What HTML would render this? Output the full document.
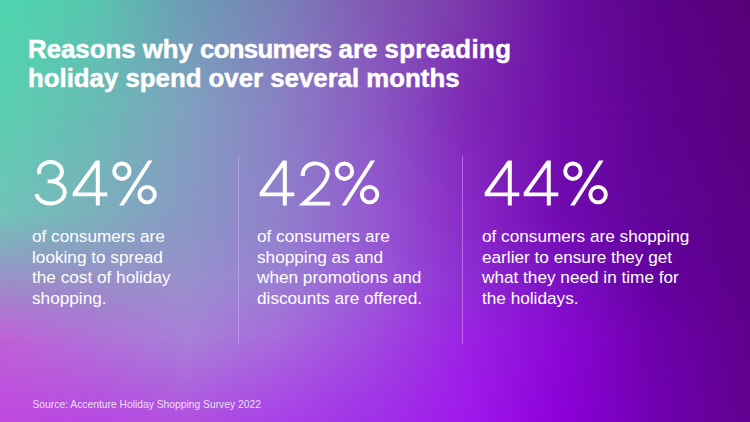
<!DOCTYPE html>
<html><head><meta charset="utf-8"><style>
html,body{margin:0;padding:0;}
body{width:750px;height:422px;overflow:hidden;position:relative;background:linear-gradient(to right, #4ed6ae 0.00%, #58c6b0 12.53%, #6c9cb4 25.07%, #7a80b8 37.47%, #8258b4 50.00%, #7c38ac 62.53%, #680ea0 75.07%, #5a0488 87.47%, #560078 100.00%);font-family:"Liberation Sans",sans-serif;color:#fff;}
.bg{position:absolute;left:0;top:0;width:750px;height:422px;}
.digits{position:absolute;left:0;top:0;}
.title{position:absolute;left:28px;top:34.6px;font-weight:bold;font-size:25.8px;line-height:29px;white-space:nowrap;-webkit-text-stroke:0.5px #fff;}
.body{position:absolute;top:226.2px;font-size:17.2px;line-height:20.6px;white-space:nowrap;}
.vl{position:absolute;top:156px;width:1px;height:188px;background:rgba(215,175,255,0.5);}
.src{position:absolute;left:32.5px;top:398px;font-size:10.3px;line-height:14px;white-space:nowrap;color:rgba(255,255,255,0.8);}
</style></head><body>
<div class="bg" style="background:linear-gradient(to right, #5ad0b0 0.00%, #68bcb4 12.53%, #80a0c0 25.07%, #8a80c4 37.47%, #8c58c4 50.00%, #7e28b6 62.53%, #700ca8 75.07%, #5e0290 87.47%, #58007c 100.00%);-webkit-mask-image:linear-gradient(to bottom, transparent 0px, #000 110px);mask-image:linear-gradient(to bottom, transparent 0px, #000 110px)"></div><div class="bg" style="background:linear-gradient(to right, #70c4b8 0.00%, #7cb0bc 12.53%, #8898c4 25.07%, #9080cc 37.47%, #9458d0 50.00%, #8a28c8 62.53%, #700ab0 75.07%, #600498 87.47%, #5a0084 100.00%);-webkit-mask-image:linear-gradient(to bottom, transparent 110px, #000 215px);mask-image:linear-gradient(to bottom, transparent 110px, #000 215px)"></div><div class="bg" style="background:linear-gradient(to right, #9a90c8 0.00%, #9890c8 12.53%, #9890cc 25.07%, #9a80d4 37.47%, #9a58d8 50.00%, #8e2cd4 62.53%, #7c10c4 75.07%, #6400a0 87.47%, #5c0088 100.00%);-webkit-mask-image:linear-gradient(to bottom, transparent 215px, #000 280px);mask-image:linear-gradient(to bottom, transparent 215px, #000 280px)"></div><div class="bg" style="background:linear-gradient(to right, #c060d8 0.00%, #b070d8 12.53%, #a880d8 25.07%, #a868dc 37.47%, #a048e0 50.00%, #9c20e4 62.53%, #8a08d4 75.07%, #6e00ac 87.47%, #5e008c 100.00%);-webkit-mask-image:linear-gradient(to bottom, transparent 280px, #000 340px);mask-image:linear-gradient(to bottom, transparent 280px, #000 340px)"></div><div class="bg" style="background:linear-gradient(to right, #be48e0 0.00%, #b848e0 12.53%, #b050e0 25.07%, #a840e8 37.47%, #a030e8 50.00%, #a018ec 62.53%, #8c00d8 75.07%, #7000b0 87.47%, #620090 100.00%);-webkit-mask-image:linear-gradient(to bottom, transparent 340px, #000 422px);mask-image:linear-gradient(to bottom, transparent 340px, #000 422px)"></div>
<svg class="digits" width="750" height="422" viewBox="0 0 750 422">
<g transform="translate(33 0)"><path d="M6.3 174 A11.5 9.7 0 1 1 17.6 181.4 H14.6 M17.6 181.4 A14.3 11.05 0 1 1 3.4 194.2" fill="none" stroke="#fff" stroke-width="3.9"/></g>
<g transform="translate(71 0)"><path fill-rule="evenodd" fill="#fff" d="M24.8 160.5 H28.8 V192.4 H36.3 V196.3 H28.8 V205.5 H24.8 V196.3 H1.7 V192.4 Z M24.8 167.2 V192.4 H6.7 Z"/></g>
<g transform="translate(110 0)"><circle cx="11.9" cy="171.2" r="7.75" fill="none" stroke="#fff" stroke-width="3.9"/><circle cx="37.1" cy="194.6" r="7.75" fill="none" stroke="#fff" stroke-width="3.9"/><path fill="#fff" d="M9.1 205.5 H13.6 L42.6 160.5 H38.1 Z"/></g>
<g transform="translate(258 0)"><path fill-rule="evenodd" fill="#fff" d="M24.8 160.5 H28.8 V192.4 H36.3 V196.3 H28.8 V205.5 H24.8 V196.3 H1.7 V192.4 Z M24.8 167.2 V192.4 H6.7 Z"/></g>
<g transform="translate(297 0)"><path d="M5.9 176 A12.45 11 0 0 1 30.8 173 C30.8 181 24 188 6.6 203.6 H33.2" fill="none" stroke="#fff" stroke-width="3.9" stroke-linejoin="miter"/></g>
<g transform="translate(332.5 0)"><circle cx="11.9" cy="171.2" r="7.75" fill="none" stroke="#fff" stroke-width="3.9"/><circle cx="37.1" cy="194.6" r="7.75" fill="none" stroke="#fff" stroke-width="3.9"/><path fill="#fff" d="M9.1 205.5 H13.6 L42.6 160.5 H38.1 Z"/></g>
<g transform="translate(483 0)"><path fill-rule="evenodd" fill="#fff" d="M24.8 160.5 H28.8 V192.4 H36.3 V196.3 H28.8 V205.5 H24.8 V196.3 H1.7 V192.4 Z M24.8 167.2 V192.4 H6.7 Z"/></g>
<g transform="translate(522 0)"><path fill-rule="evenodd" fill="#fff" d="M24.8 160.5 H28.8 V192.4 H36.3 V196.3 H28.8 V205.5 H24.8 V196.3 H1.7 V192.4 Z M24.8 167.2 V192.4 H6.7 Z"/></g>
<g transform="translate(561 0)"><circle cx="11.9" cy="171.2" r="7.75" fill="none" stroke="#fff" stroke-width="3.9"/><circle cx="37.1" cy="194.6" r="7.75" fill="none" stroke="#fff" stroke-width="3.9"/><path fill="#fff" d="M9.1 205.5 H13.6 L42.6 160.5 H38.1 Z"/></g>
</svg>
<div class="title">Reasons why <span style="letter-spacing:-0.7px">consumers</span> are <span style="letter-spacing:0.4px">spreading</span><br>holiday spend over several months</div>
<div class="vl" style="left:238px"></div>
<div class="vl" style="left:462px"></div>
<div class="body" style="left:32px">of consumers are<br>looking to spread<br>the cost of holiday<br>shopping.</div>
<div class="body" style="left:257px">of consumers are<br>shopping as and<br>when promotions and<br>discounts are offered.</div>
<div class="body" style="left:482px">of consumers are shopping<br>earlier to ensure they get<br>what they need in time for<br>the holidays.</div>
<div class="src">Source: Accenture Holiday Shopping Survey 2022</div>
</body></html>
